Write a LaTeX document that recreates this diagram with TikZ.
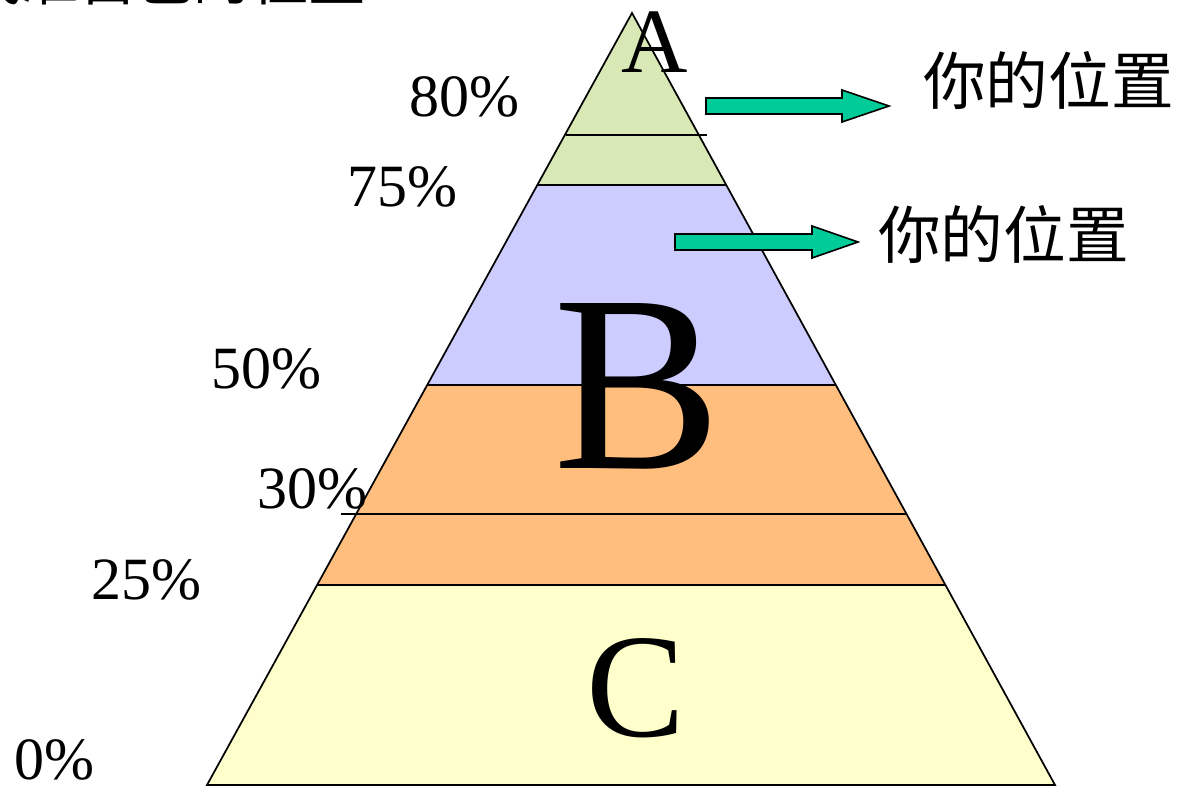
\documentclass[tikz,border=0pt]{standalone}
\usepackage{fontspec}
\setmainfont{Liberation Serif}
\newfontfamily\cjk{Noto Sans CJK SC}
\definecolor{bandA}{RGB}{216,233,182}
\definecolor{bandB}{RGB}{204,204,255}
\definecolor{bandO}{RGB}{255,190,125}
\definecolor{bandC}{RGB}{255,255,204}
\definecolor{arrowgreen}{RGB}{0,204,153}
\tikzset{
  band/.style={draw=black, line width=1.3pt},
  pct/.style={anchor=base west, inner sep=0pt, font=\fontsize{45}{48}\selectfont},
  cnlabel/.style={anchor=west, inner sep=0pt, font=\cjk\fontsize{47}{50}\selectfont},
  bigletter/.style={anchor=base, inner sep=0pt},
  greenarrow/.style={draw=black, line width=1.2pt, fill=arrowgreen},
  divider/.style={draw=black, line width=1.3pt}
}
\begin{document}
\begin{tikzpicture}[x=0.75pt,y=-0.75pt]
\useasboundingbox (0,0) rectangle (1184,788);
\begin{scope}
\clip (0,0) rectangle (1184,788);
\node[anchor=base east, inner sep=0pt, font=\cjk\fontsize{43}{46}\selectfont] (title) at (366,1) {找准自己的位置};
\end{scope}
% pyramid coordinates
\coordinate (apex) at (632,13);
\coordinate (l75) at (537.5,185); \coordinate (r75) at (726.5,185);
\coordinate (l50) at (427.5,385); \coordinate (r50) at (835.5,385);
\coordinate (l25) at (317.5,585); \coordinate (r25) at (945,585);
\coordinate (l0) at (207,785); \coordinate (r0) at (1055,785);
% bands
\path[fill=bandA] (apex) -- (r75) -- (l75) -- cycle;
\path[fill=bandB] (l75) -- (r75) -- (r50) -- (l50) -- cycle;
\path[fill=bandO] (l50) -- (r50) -- (r25) -- (l25) -- cycle;
\path[fill=bandC] (l25) -- (r25) -- (r0) -- (l0) -- cycle;
\draw[band] (apex) -- (r0) -- (l0) -- cycle;
\draw[divider] (l75) -- (r75);
\draw[divider] (l50) -- (r50);
\draw[divider] (l25) -- (r25);
\coordinate (d80a) at (566,135); \coordinate (d80b) at (707,135);
\draw[divider] (d80a) -- (d80b);
\coordinate (d30a) at (341,514); \coordinate (d30b) at (906,514);
\draw[divider] (d30a) -- (d30b);
% letters
\node[bigletter, font=\fontsize{69}{72}\selectfont] (A) at (655,73) {A};
\node[bigletter, font=\fontsize{189}{192}\selectfont] (B) at (638,468) {B};
\node[bigletter, font=\fontsize{111}{114}\selectfont] (C) at (636,736) {C};
% percent labels
\node[pct] (p80) at (409,117) {80\%};
\node[pct] (p75) at (347,206) {75\%};
\node[pct] (p50) at (211,388) {50\%};
\node[pct] (p30) at (257,508) {30\%};
\node[pct] (p25) at (91,599) {25\%};
\node[pct] (p0) at (14,779) {0\%};
% arrows and labels
\node[cnlabel] (you1) at (923,80) {你的位置};
\node[cnlabel] (you2) at (878,234) {你的位置};
\draw[greenarrow] (706,98) -- (842,98) -- (842,90) -- (889,106) -- (842,122) -- (842,114) -- (706,114) -- cycle;
\draw[greenarrow] (675,234) -- (812,234) -- (812,226) -- (858,242) -- (812,258) -- (812,250) -- (675,250) -- cycle;
\end{tikzpicture}
\end{document}
